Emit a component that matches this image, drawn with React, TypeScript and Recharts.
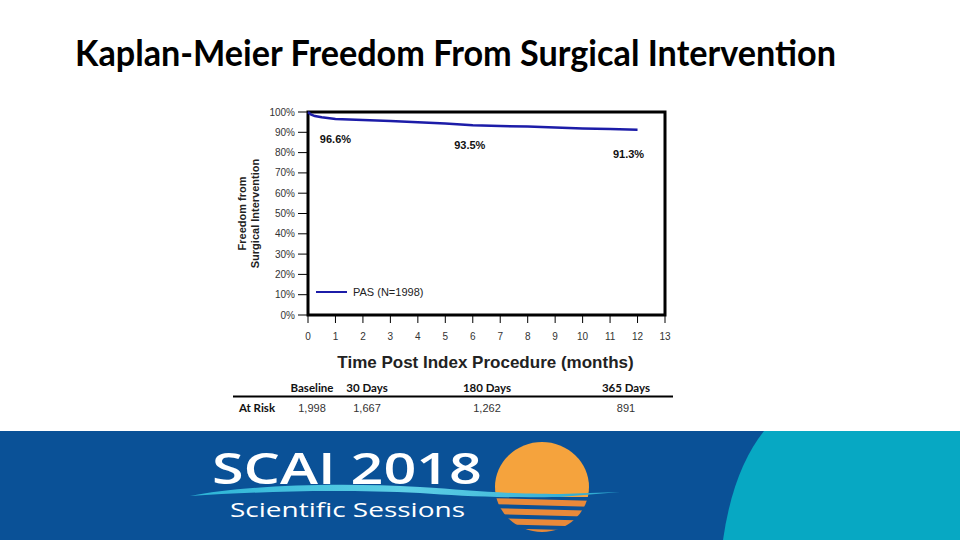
import React from 'react';
import { LineChart, Line, XAxis, YAxis, ReferenceArea, LabelList, Legend } from 'recharts';

// ---- data ----
const months = [0, 0.1, 0.25, 0.5, 1, 2, 3, 4, 5, 6, 7, 8, 9, 10, 11, 12];
const freedomPct = [100, 98.8, 98.0, 97.4, 96.6, 96.0, 95.6, 95.0, 94.3, 93.5, 93.1, 92.8, 92.4, 91.9, 91.6, 91.3];
const noteMonths = [1, 6, 12];
const noteTexts = ['96.6%', '93.5%', '91.3%'];
const xTicks = [0, 1, 2, 3, 4, 5, 6, 7, 8, 9, 10, 11, 12, 13];
const yTicks = [0, 10, 20, 30, 40, 50, 60, 70, 80, 90, 100];
const seriesName = 'PAS (N=1998)';
const riskHeaders = ['Baseline', '30 Days', '180 Days', '365 Days'];
const riskCounts = [1998, 1667, 1262, 891];

// ---- layout (not data) ----
const riskColX = [312, 367, 487, 626];
const noteNudge = [{ dx: 0, dy: 24 }, { dx: -3, dy: 24 }, { dx: -9, dy: 28 }];

const chartData = months.map((m, i) => {
  const k = noteMonths.indexOf(m);
  return { month: m, pct: freedomPct[i], note: k >= 0 ? noteTexts[k] : null, noteIdx: k };
});

const LINE = '#1c1ca8';
const FONT = '"Liberation Sans", Arial, sans-serif';

const renderNote = (props: any) => {
  const { x, y, value, index } = props;
  if (!value) return null;
  const k = chartData[index] ? chartData[index].noteIdx : -1;
  const n = k >= 0 ? noteNudge[k] : { dx: 0, dy: 24 };
  return (
    <text x={x + n.dx} y={y + n.dy} textAnchor="middle" fontSize={11} fontWeight="bold" fill="#111" fontFamily={FONT}>
      {value}
    </text>
  );
};

const renderLegend = () => (
  <svg width={150} height={16} style={{ display: 'block' }}>
    <line x1={4} x2={35} y1={8} y2={8} stroke={LINE} strokeWidth={2} />
    <text x={41} y={12} fontSize={11} fill="#222" fontFamily={FONT}>{seriesName}</text>
  </svg>
);

const YTitle = (props: any) => {
  const vb = props.viewBox || { x: 218, y: 112, width: 90, height: 203 };
  const cy = vb.y + vb.height / 2;
  const x1 = vb.x + 28;
  const x2 = vb.x + 41;
  return (
    <g fontFamily={FONT} fontWeight="bold" fill="#222" fontSize={11}>
      <text x={x1} y={cy} textAnchor="middle" transform={`rotate(-90, ${x1}, ${cy})`}>Freedom from</text>
      <text x={x2} y={cy} textAnchor="middle" transform={`rotate(-90, ${x2}, ${cy})`}>Surgical Intervention</text>
    </g>
  );
};

const XTitle = (props: any) => {
  const vb = props.viewBox || { x: 308, y: 315, width: 357, height: 60 };
  return (
    <text x={vb.x + vb.width / 2 - 1} y={vb.y + 53} textAnchor="middle" fontSize={17} fontWeight="bold" fill="#222" fontFamily={FONT}>
      Time Post Index Procedure (months)
    </text>
  );
};

export default function App() {
  return (
    <div style={{ position: 'relative', width: 960, height: 540, background: '#fff', overflow: 'hidden' }}>
      <style>{`body{margin:0;}`}</style>
      <svg width={960} height={540} style={{ position: 'absolute', left: 0, top: 0 }}>
        <text x={75} y={66} fontSize={36} fontWeight="bold" fill="#000" fontFamily="Lato, 'Open Sans', sans-serif" textLength={761} lengthAdjust="spacingAndGlyphs">
          Kaplan-Meier Freedom From Surgical Intervention
        </text>
        {/* at-risk table */}
        <g fontFamily="Lato, 'Liberation Sans', sans-serif">
          {riskHeaders.map((h, i) => (
            <text key={h} x={riskColX[i]} y={392} textAnchor="middle" fontSize={11.5} fontWeight="bold" fill="#111">{h}</text>
          ))}
          <line x1={233} x2={673} y1={396.5} y2={396.5} stroke="#000" strokeWidth={2} />
          <text x={257} y={412} textAnchor="middle" fontSize={11.5} fontWeight="bold" fill="#111">At Risk</text>
          {riskCounts.map((c, i) => (
            <text key={i} x={riskColX[i]} y={412} textAnchor="middle" fontSize={11} fill="#333" fontFamily={FONT}>{c.toLocaleString('en-US')}</text>
          ))}
        </g>
        {/* banner */}
        <rect x={0} y={431} width={960} height={109} fill="#0a5197" />
        <path d="M764,431 Q733,470 723,540 L960,540 L960,431 Z" fill="#07a8c3" />
        <defs>
          <clipPath id="sunClip">
            <ellipse cx={542} cy={487} rx={47} ry={45} />
          </clipPath>
          <linearGradient id="wave" x1="0" x2="1" y1="0" y2="0">
            <stop offset="0" stopColor="#2bb3d6" />
            <stop offset="0.5" stopColor="#5fd0e6" />
            <stop offset="1" stopColor="#2aa6cf" />
          </linearGradient>
        </defs>
        <g clipPath="url(#sunClip)">
          <rect x={490} y={440} width={110} height={57} fill="#f5a33d" />
          <path d="M490,498 L600,501 L600,507 L490,504 Z" fill="#e8893a" />
          <path d="M490,508 L600,511 L600,517 L490,514 Z" fill="#e8893a" />
          <path d="M490,518 L600,521 L600,527 L490,524 Z" fill="#e8893a" />
          <path d="M490,528 L600,531 L600,540 L490,540 Z" fill="#e8893a" />
        </g>
        <text x={212} y={484} fontSize={43} fontWeight={600} fill="#fff" fontFamily="'Open Sans', sans-serif" textLength={270} lengthAdjust="spacingAndGlyphs">SCAI 2018</text>
        <path d="M190,496 C240,486 330,482 420,487 C470,490 500,494 560,494 L620,492 L560,497 C500,498 460,496 420,493 C330,489 250,492 190,496 Z" fill="url(#wave)" />
        <text x={230} y={517} fontSize={20} fill="#fff" fontFamily="'Open Sans', sans-serif" textLength={235} lengthAdjust="spacingAndGlyphs">Scientific Sessions</text>
      </svg>
      <div style={{ position: 'absolute', left: 0, top: 0 }}>
        <LineChart width={960} height={430} data={chartData} margin={{ top: 112, right: 295, left: 218, bottom: 55 }} style={{ fontFamily: FONT }}>
          <XAxis
            type="number"
            dataKey="month"
            domain={[0, 13]}
            ticks={xTicks}
            interval={0}
            axisLine={false}
            tickLine={{ stroke: '#000', strokeWidth: 1 }}
            tickSize={8}
            tickMargin={10}
            height={60}
            tick={{ fontSize: 10, fill: '#333', fontFamily: FONT }}
            label={<XTitle />}
          />
          <YAxis
            type="number"
            domain={[0, 100]}
            ticks={yTicks}
            interval={0}
            axisLine={false}
            tickLine={{ stroke: '#000', strokeWidth: 1 }}
            tickSize={10}
            tickMargin={3}
            width={90}
            tickFormatter={(v: number) => `${v}%`}
            tick={{ fontSize: 10, fill: '#333', fontFamily: FONT }}
            label={<YTitle />}
          />
          <ReferenceArea x1={0} x2={13} y1={0} y2={100} fill="none" fillOpacity={0} stroke="#000" strokeWidth={3} ifOverflow="visible" />
          <Line type="linear" dataKey="pct" name={seriesName} stroke={LINE} strokeWidth={2.5} dot={false} activeDot={false} isAnimationActive={false}>
            <LabelList dataKey="note" content={renderNote} />
          </Line>
          <Legend content={renderLegend} verticalAlign="middle" align="center" layout="horizontal" wrapperStyle={{ left: 312, top: 284, width: 150, height: 16 }} />
        </LineChart>
      </div>
    </div>
  );
}
